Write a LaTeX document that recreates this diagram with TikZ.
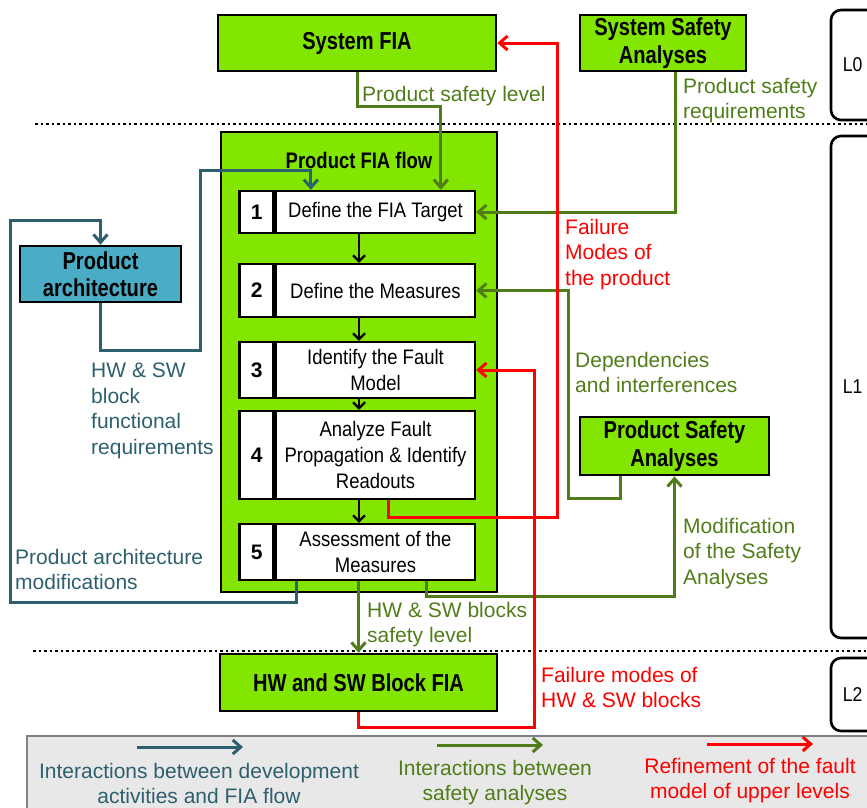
\documentclass[tikz,border=0pt]{standalone}
\usepackage{fontspec}
\setmainfont{Liberation Sans}
\newfontfamily\narrowfont[FakeStretch=0.82]{Liberation Sans}
\newfontfamily\stepfont[FakeStretch=0.88]{Liberation Sans}
\usetikzlibrary{arrows.meta,positioning,calc}

\definecolor{fiagreen}{RGB}{130,230,0}
\definecolor{archblue}{RGB}{75,172,198}
\definecolor{devcol}{RGB}{45,95,110}
\definecolor{safecol}{RGB}{80,125,25}
\definecolor{refcol}{RGB}{255,0,0}
\definecolor{legendgray}{RGB}{232,232,232}

\begin{document}
\begin{tikzpicture}[x=1pt, y=-1pt,
  fiabox/.style={draw, line width=2.6pt, fill=fiagreen, align=center, inner sep=0pt,
    font=\narrowfont\bfseries\fontsize{24.5}{27.5}\selectfont},
  numcell/.style={draw, line width=2.4pt, fill=white, minimum width=34pt, inner sep=0pt,
    font=\bfseries\fontsize{21}{25}\selectfont},
  stepcell/.style={draw, line width=2.4pt, fill=white, minimum width=199pt, inner sep=0pt,
    align=center, font=\stepfont\fontsize{21}{26}\selectfont},
  lvl/.style={draw, line width=2.6pt, rounded corners=10pt, minimum width=70pt, inner sep=0pt},
  lvltxt/.style={anchor=west, inner sep=0pt, font=\stepfont\fontsize{20}{24}\selectfont},
  lbl/.style={anchor=north west, inner sep=0pt, align=left, font=\fontsize{21}{25.5}\selectfont},
  legtxt/.style={anchor=north, inner sep=0pt, align=center, font=\fontsize{21}{25}\selectfont},
  sep/.style={line width=2.5pt, dash pattern=on 2.5pt off 3pt},
  steparrow/.style={draw=black, line width=2.2pt, -{Straight Barb[length=6pt,width=12pt]}},
  devline/.style={draw=devcol, line width=3pt, -{Straight Barb[length=8pt,width=14pt]}},
  safeline/.style={draw=safecol, line width=3pt, -{Straight Barb[length=8pt,width=14pt]}},
  refline/.style={draw=refcol, line width=3pt, -{Straight Barb[length=8pt,width=14pt]}}]
  \useasboundingbox (0,0) rectangle (867,807);
  \clip (0,0) rectangle (867,807);

  % level separators
  \draw[sep] (35,124) -- (867,124);
  \draw[sep] (33,651) -- (867,651);

  % levels
  \node[lvl, minimum height=110pt] (l0) at (866,65) {};
  \node[lvltxt] (l0txt) at ([xshift=13pt]l0.west) {L0};
  \node[lvl, minimum height=502pt] (l1) at (866,387) {};
  \node[lvltxt] (l1txt) at ([xshift=13pt]l1.west) {L1};
  \node[lvl, minimum height=73pt] (l2) at (866,694.5) {};
  \node[lvltxt] (l2txt) at ([xshift=13pt]l2.west) {L2};

  % L0
  \node[fiabox, minimum width=278pt, minimum height=56pt] (sysfia) at (357,43) {System FIA};
  \node[fiabox, minimum width=166pt, minimum height=56pt] (sysana) at (663,43) {System Safety\\Analyses};

  % L1
  \node[draw, line width=2.6pt, fill=fiagreen, minimum width=276pt, minimum height=460pt] (flow) at (359,362) {};
  \node[font=\narrowfont\bfseries\fontsize{22.5}{27}\selectfont] (flowtitle) at (359,160) {Product FIA flow};

  \node[stepcell, minimum height=42pt] (s1) at (375.5,212) {Define the FIA Target};
  \node[numcell, minimum height=42pt, anchor=east] (n1) at (s1.west) {1};
  \node[stepcell, minimum height=53pt] (s2) at (375.5,290.5) {Define the Measures};
  \node[numcell, minimum height=53pt, anchor=east] (n2) at (s2.west) {2};
  \node[stepcell, minimum height=56pt] (s3) at (375.5,370) {Identify the Fault\\Model};
  \node[numcell, minimum height=56pt, anchor=east] (n3) at (s3.west) {3};
  \node[stepcell, minimum height=88pt] (s4) at (375.5,455) {Analyze Fault\\Propagation \& Identify\\Readouts};
  \node[numcell, minimum height=88pt, anchor=east] (n4) at (s4.west) {4};
  \node[stepcell, minimum height=56pt] (s5) at (375.5,552) {Assessment of the\\Measures};
  \node[numcell, minimum height=56pt, anchor=east] (n5) at (s5.west) {5};

  \draw[steparrow] (s1.south -| flow.center) -- (s2.north -| flow.center);
  \draw[steparrow] (s2.south -| flow.center) -- (s3.north -| flow.center);
  \draw[steparrow] (s3.south -| flow.center) -- (s4.north -| flow.center);
  \draw[steparrow] (s4.south -| flow.center) -- (s5.north -| flow.center);

  \node[fiabox, fill=archblue, minimum width=161pt, minimum height=56pt] (parch) at (100.5,274) {Product\\architecture};
  \node[fiabox, minimum width=189pt, minimum height=58pt] (psa) at (674.5,446) {Product Safety\\Analyses};

  % L2
  \node[fiabox, minimum width=277pt, minimum height=57pt] (hwsw) at (358.5,682.5) {HW and SW Block FIA};

  % legend
  \node[draw=black!50, line width=1.2pt, fill=legendgray, minimum width=853pt, minimum height=84pt] (legend) at (453.5,778) {};
  \coordinate (d1) at (137,747);
  \coordinate (d2) at (243,747);
  \coordinate (g1) at (437,745);
  \coordinate (g2) at (543,745);
  \coordinate (r1) at (707,744);
  \coordinate (r2) at (813,744);
  \draw[devline] (d1) -- (d2);
  \draw[safeline] (g1) -- (g2);
  \draw[refline] (r1) -- (r2);
  \node[legtxt, text=devcol] (leg1) at (199,763) {Interactions between development\\activities and FIA flow};
  \node[legtxt, text=safecol] (leg2) at (495,760) {Interactions between\\safety analyses};
  \node[legtxt, text=refcol] (leg3) at (750,758) {Refinement of the fault\\model of upper levels};

  % development activities
  \draw[devline] (parch.south) |- (200,350) |- ([shift={(36pt,19pt)}]s1.north west) -- ([xshift=36pt]s1.north west);
  \draw[devline] ([xshift=22pt]n5.south east) |- (10,602) |- ([yshift=24pt]parch.north) -- (parch.north);
  \node[lbl, text=devcol] (lreq) at (91,363) {HW \& SW\\block\\functional\\requirements};
  \node[lbl, text=devcol] (lmodif) at (15,549) {Product architecture\\modifications};

  % safety analyses
  \draw[safeline] (sysfia.south) -- ++(0,34) -| ([xshift=166pt]s1.north west);
  \draw[safeline] ([xshift=12pt]sysana.south) |- (s1.east);
  \draw[safeline] ([xshift=-54pt]psa.south) |- (568,498) |- (s2.east);
  \draw[safeline] ([xshift=152pt]n5.south east) -- ++(0,15) -| (psa.south);
  \draw[safeline] (s5.south -| hwsw.north) -- (hwsw.north);
  \node[lbl, text=safecol] (lpsl) at (362,86) {Product safety level};
  \node[lbl, text=safecol] (lpsr) at (683,78) {Product safety\\requirements};
  \node[lbl, text=safecol] (ldep) at (575,352) {Dependencies\\and interferences};
  \node[lbl, text=safecol] (lmod) at (683,518) {Modification\\of the Safety\\Analyses};
  \node[lbl, text=safecol] (lhwl) at (367,602) {HW \& SW blocks\\safety level};

  % fault model refinement
  \draw[refline] ([xshift=114pt]n4.south east) |- (557,517) |- (sysfia.east);
  \draw[refline] (hwsw.south) |- (534,727) |- (s3.east);
  \node[lbl, text=refcol] (lfmp) at (565,219) {Failure\\Modes of\\the product};
  \node[lbl, text=refcol] (lfmb) at (541,667) {Failure modes of\\HW \& SW blocks};
\end{tikzpicture}
\end{document}
